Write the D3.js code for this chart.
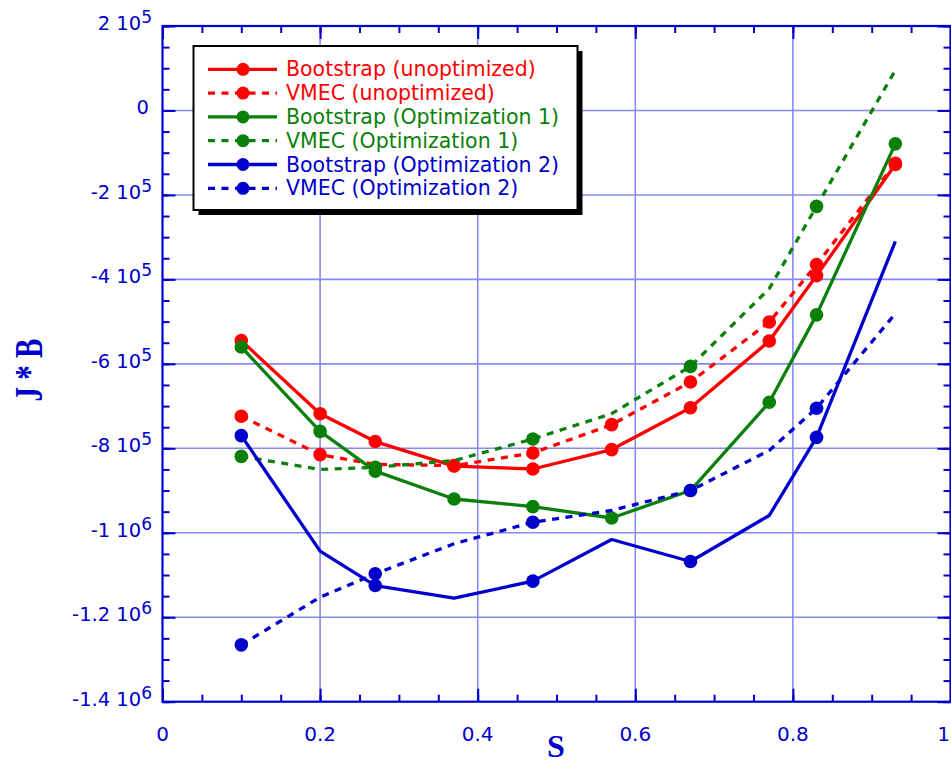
<!DOCTYPE html>
<html>
<head>
<meta charset="utf-8">
<script src="https://cdn.jsdelivr.net/npm/d3@7"></script>
<style>
  html, body { margin: 0; padding: 0; background: #fff; overflow: hidden; }
  svg { display: block; }
</style>
</head>
<body>
<svg id="chart" width="951" height="765"></svg>
<script>
// ---------------- data ----------------
const sValues = [0.1, 0.2, 0.27, 0.37, 0.47, 0.57, 0.67, 0.77, 0.83, 0.93];

const bootstrapUnopt = [-5.45e5, -7.18e5, -7.84e5, -8.42e5, -8.49e5, -8.03e5, -7.04e5, -5.46e5, -3.91e5, -1.28e5];
const vmecUnopt      = [-7.24e5, -8.15e5, -8.38e5, -8.41e5, -8.11e5, -7.44e5, -6.43e5, -5.01e5, -3.65e5, -1.25e5];
const bootstrapOpt1  = [-5.60e5, -7.60e5, -8.54e5, -9.20e5, -9.38e5, -9.65e5, -9.00e5, -6.91e5, -4.84e5, -0.79e5];
const vmecOpt1       = [-8.19e5, -8.50e5, -8.45e5, -8.29e5, -7.78e5, -7.18e5, -6.06e5, -4.22e5, -2.27e5, 0.95e5];
const bootstrapOpt2  = [-7.70e5, -1.0435e6, -1.125e6, -1.155e6, -1.1145e6, -1.016e6, -1.068e6, -9.59e5, -7.74e5, -3.10e5];
const vmecOpt2       = [-1.2654e6, -1.1525e6, -1.097e6, -1.026e6, -9.75e5, -9.47e5, -9.00e5, -8.05e5, -7.05e5, -4.81e5];

// indices of points that carry a marker
const markersBootUnopt = [0, 1, 2, 3, 4, 5, 6, 7, 8, 9];
const markersVmecUnopt = [0, 1, 3, 4, 5, 6, 7, 8, 9];
const markersBootOpt1  = [0, 1, 2, 3, 4, 5, 6, 7, 8, 9];
const markersVmecOpt1  = [0, 2, 4, 6, 8];
const markersBootOpt2  = [0, 2, 4, 6, 8];
const markersVmecOpt2  = [0, 2, 4, 6, 8];

const seriesNames = [
  "Bootstrap (unoptimized)", "VMEC (unoptimized)",
  "Bootstrap (Optimization 1)", "VMEC (Optimization 1)",
  "Bootstrap (Optimization 2)", "VMEC (Optimization 2)"
];

const xTickValues = [0, 0.2, 0.4, 0.6, 0.8, 1];
const xTickLabels = ["0", "0.2", "0.4", "0.6", "0.8", "1"];
const yTickValues = [2e5, 0, -2e5, -4e5, -6e5, -8e5, -1e6, -1.2e6, -1.4e6];
const yTickMantissas = ["2", "0", "-2", "-4", "-6", "-8", "-1", "-1.2", "-1.4"];
const yTickExponents = ["5", "", "5", "5", "5", "5", "6", "6", "6"];

const xTitle = "S";
const yTitle = "J * B";

// ---------------- styling ----------------
const RED = "#ff0000", GREEN = "#0a800a", BLUE = "#0000cc";
const AXIS = "#0000cc", GRID = "#8888ee";

const series = [
  { name: seriesNames[0], values: bootstrapUnopt, markers: markersBootUnopt, color: RED,   dashed: false },
  { name: seriesNames[1], values: vmecUnopt,      markers: markersVmecUnopt, color: RED,   dashed: true  },
  { name: seriesNames[2], values: bootstrapOpt1,  markers: markersBootOpt1,  color: GREEN, dashed: false },
  { name: seriesNames[3], values: vmecOpt1,       markers: markersVmecOpt1,  color: GREEN, dashed: true  },
  { name: seriesNames[4], values: bootstrapOpt2,  markers: markersBootOpt2,  color: BLUE,  dashed: false },
  { name: seriesNames[5], values: vmecOpt2,       markers: markersVmecOpt2,  color: BLUE,  dashed: true  }
];

const svg = d3.select("#chart");
const pLeft = 162.5, pRight = 950.5, pTop = 26, pBottom = 701.7;

const x = d3.scaleLinear().domain([0, 1]).range([pLeft, pRight]);
const y = d3.scaleLinear().domain([-1.4e6, 2e5]).range([pBottom, pTop]);

// grid
const gridG = svg.append("g");
gridG.selectAll("line.gx").data(xTickValues.filter(v => v > 0 && v < 1)).enter()
  .append("line").attr("x1", d => x(d)).attr("x2", d => x(d))
  .attr("y1", pTop).attr("y2", pBottom)
  .attr("stroke", GRID).attr("stroke-width", 1.6);
gridG.selectAll("line.gy").data(yTickValues.filter(v => v < 2e5 && v > -1.4e6)).enter()
  .append("line").attr("y1", d => y(d)).attr("y2", d => y(d))
  .attr("x1", pLeft).attr("x2", pRight)
  .attr("stroke", GRID).attr("stroke-width", 1.6);

// axes (frame with inward ticks)
const xMinor = d3.range(0, 1.0001, 0.05);
const yMinor = d3.range(-1.4e6, 2.0001e5, 5e4);

function styleAxis(g) {
  g.select(".domain").remove();
  g.selectAll(".tick line").attr("stroke", AXIS).attr("stroke-width", 2);
  g.selectAll("text").remove();
}
// bottom
svg.append("g").attr("transform", `translate(0,${pBottom})`)
  .call(d3.axisTop(x).tickValues(xMinor).tickSize(7).tickFormat("")).call(styleAxis);
svg.append("g").attr("transform", `translate(0,${pBottom})`)
  .call(d3.axisTop(x).tickValues(xTickValues).tickSize(13).tickFormat("")).call(styleAxis);
// top
svg.append("g").attr("transform", `translate(0,${pTop})`)
  .call(d3.axisBottom(x).tickValues(xMinor).tickSize(7).tickFormat("")).call(styleAxis);
svg.append("g").attr("transform", `translate(0,${pTop})`)
  .call(d3.axisBottom(x).tickValues(xTickValues).tickSize(13).tickFormat("")).call(styleAxis);
// left
svg.append("g").attr("transform", `translate(${pLeft},0)`)
  .call(d3.axisRight(y).tickValues(yMinor).tickSize(7).tickFormat("")).call(styleAxis);
svg.append("g").attr("transform", `translate(${pLeft},0)`)
  .call(d3.axisRight(y).tickValues(yTickValues).tickSize(13).tickFormat("")).call(styleAxis);
// right
svg.append("g").attr("transform", `translate(${pRight},0)`)
  .call(d3.axisLeft(y).tickValues(yMinor).tickSize(7).tickFormat("")).call(styleAxis);
svg.append("g").attr("transform", `translate(${pRight},0)`)
  .call(d3.axisLeft(y).tickValues(yTickValues).tickSize(13).tickFormat("")).call(styleAxis);

svg.append("rect").attr("x", pLeft).attr("y", pTop)
  .attr("width", pRight - pLeft).attr("height", pBottom - pTop)
  .attr("fill", "none").attr("stroke", AXIS).attr("stroke-width", 2.2);

// tick labels
const labelFont = "'DejaVu Sans', Verdana, sans-serif";
svg.append("g").selectAll("text").data(xTickValues).enter()
  .append("text")
  .attr("x", d => d === 1 ? 950 : x(d)).attr("y", 740.5)
  .attr("text-anchor", d => d === 1 ? "end" : "middle")
  .attr("font-family", labelFont).attr("font-size", 20)
  .attr("fill", AXIS)
  .text((d, i) => xTickLabels[i]);

const yl = svg.append("g").selectAll("text").data(yTickValues).enter()
  .append("text")
  .attr("x", 152).attr("y", d => y(d) + 4)
  .attr("text-anchor", "end")
  .attr("font-family", labelFont).attr("font-size", 19.5)
  .attr("fill", AXIS);
yl.each(function(d, i) {
  const t = d3.select(this);
  if (yTickExponents[i] === "") {
    t.attr("x", 149).text(yTickMantissas[i]);
  } else {
    t.append("tspan").text(yTickMantissas[i] + " 10");
    t.append("tspan").attr("dy", -7).attr("font-size", 17).text(yTickExponents[i]);
  }
});

// axis titles
svg.append("text")
  .attr("x", 556).attr("y", 757)
  .attr("text-anchor", "middle")
  .attr("font-family", "'Liberation Serif', 'Times New Roman', serif")
  .attr("font-weight", "bold").attr("font-size", 32)
  .attr("fill", AXIS).text(xTitle);

svg.append("text")
  .attr("transform", `translate(42,370) rotate(-90) scale(1,1.35)`)
  .attr("text-anchor", "middle")
  .attr("font-family", "'Liberation Serif', 'Times New Roman', serif")
  .attr("font-weight", "bold").attr("font-size", 29)
  .attr("fill", AXIS).text(yTitle);

// data lines
const line = d3.line().x(d => x(d[0])).y(d => y(d[1]));
const dataG = svg.append("g");
series.forEach(s => {
  const pts = sValues.map((v, i) => [v, s.values[i]]);
  dataG.append("path").datum(pts)
    .attr("d", line)
    .attr("fill", "none")
    .attr("stroke", s.color)
    .attr("stroke-width", 3.3)
    .attr("stroke-linejoin", "round")
    .attr("stroke-dasharray", s.dashed ? "7,6.5" : null);
  dataG.selectAll(null).data(s.markers.map(i => pts[i])).enter()
    .append("circle")
    .attr("cx", d => x(d[0])).attr("cy", d => y(d[1]))
    .attr("r", 6.8).attr("fill", s.color);
});

// legend
const lg = svg.append("g");
const lx = 193.5, ly = 46, lw = 384, lh = 164;
lg.append("rect").attr("x", lx + 5).attr("y", ly + 5).attr("width", lw).attr("height", lh).attr("fill", "#000");
lg.append("rect").attr("x", lx).attr("y", ly).attr("width", lw).attr("height", lh)
  .attr("fill", "#fff").attr("stroke", "#000").attr("stroke-width", 2);
series.forEach((s, i) => {
  const cy = 69.3 + i * 23.8;
  lg.append("line").attr("x1", 208).attr("x2", 277).attr("y1", cy).attr("y2", cy)
    .attr("stroke", s.color).attr("stroke-width", 3.3)
    .attr("stroke-dasharray", s.dashed ? "7,6.5" : null);
  lg.append("circle").attr("cx", 243).attr("cy", cy).attr("r", 6.5).attr("fill", s.color);
  lg.append("text").attr("x", 286).attr("y", cy + 7)
    .attr("font-family", labelFont).attr("font-size", 20.5)
    .attr("fill", s.color).text(s.name);
});
</script>
</body>
</html>
